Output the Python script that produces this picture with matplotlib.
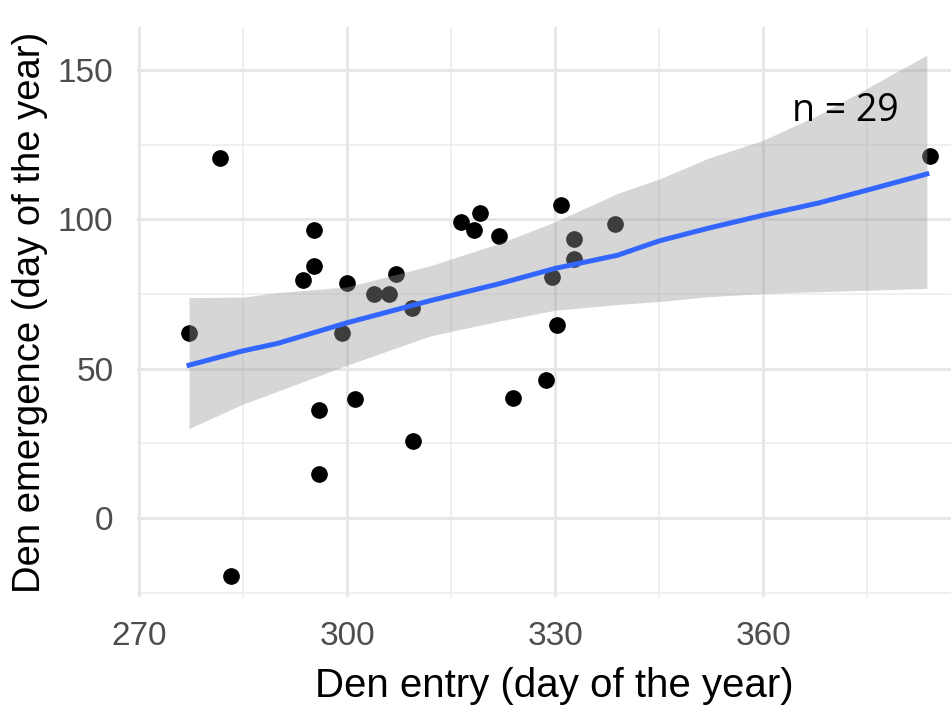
import matplotlib

matplotlib.use("Agg")

import matplotlib.pyplot as plt
import numpy as np

# den entry / den emergence (day of the year)
entry = [281.6, 295.2, 295.2, 293.6, 300.0, 307.1, 303.9, 306.1, 309.3,
         277.2, 299.2, 296.0, 301.2, 309.5, 296.0, 283.2,
         316.4, 319.1, 318.3, 321.9, 330.8, 332.7, 332.7, 329.6, 330.3,
         338.7, 328.7, 323.9, 384.0]
emergence = [120.4, 96.4, 84.4, 79.7, 78.8, 81.7, 75.0, 75.0, 70.2,
             62.0, 62.0, 36.2, 39.8, 25.9, 14.7, -19.4,
             99.2, 102.0, 96.4, 94.5, 104.8, 93.6, 86.6, 80.6, 64.8,
             98.4, 46.2, 40.1, 121.2]

# smoother (loess) fit and confidence band
fit_x = [277.2, 285.0, 290.0, 300.0, 312.0, 322.0, 330.0, 339.0, 345.0,
         352.0, 360.0, 368.0, 375.0, 383.6]
fit_y = [51.2, 56.0, 58.5, 65.4, 72.8, 78.5, 83.6, 88.0, 92.8,
         97.0, 101.4, 105.5, 109.8, 115.2]
fit_hi = [73.8, 74.0, 75.5, 77.4, 84.5, 92.0, 99.2, 108.7, 113.5,
          120.4, 126.5, 135.0, 143.9, 155.0]
fit_lo = [30.0, 38.2, 42.5, 51.2, 61.0, 66.0, 69.6, 71.5, 72.5,
          74.1, 75.2, 75.8, 76.3, 76.9]

x_major = [270, 300, 330, 360]
x_minor = [285, 315, 345, 375]
y_major = [0, 50, 100, 150]
y_minor = [-25, 25, 75, 125]

fig = plt.figure(figsize=(9.51, 7.07), dpi=100)
ax = fig.add_axes([0.1441, 0.1556, 0.856, 0.8062])

for v in x_minor:
    ax.axvline(v, color="#ececec", linewidth=1.1, zorder=0)
for v in y_minor:
    ax.axhline(v, color="#ececec", linewidth=1.1, zorder=0)
for v in x_major:
    ax.axvline(v, color="#e6e6e6", linewidth=2.0, zorder=0)
for v in y_major:
    ax.axhline(v, color="#e6e6e6", linewidth=2.0, zorder=0)

ax.plot(entry, emergence, "o", color="black", markersize=11, zorder=2)
ax.fill_between(fit_x, fit_lo, fit_hi, color="#999999", alpha=0.4,
                linewidth=0, zorder=3)
ax.plot(fit_x, fit_y, color="#3366FF", linewidth=3.6, zorder=4)

ax.text(371.9, 136.3, "n = 29", fontsize=27, family="Open Sans",
        ha="center", va="center", color="black", zorder=5)

ax.set_xlim(269.7, 387.1)
ax.set_ylim(-26.4, 164.4)
ax.set_xticks(x_major)
ax.set_yticks(y_major)
ax.tick_params(length=0, labelsize=24, labelcolor="#4d4d4d", pad=17)
for lab in ax.get_xticklabels() + ax.get_yticklabels():
    lab.set_family("Liberation Sans")
for s in ax.spines.values():
    s.set_visible(False)

ax.set_xlabel("Den entry (day of the year)", fontsize=29,
              family="Liberation Sans", labelpad=9)
ax.xaxis.set_label_coords(0.512, -0.122)
ax.set_ylabel("Den emergence (day of the year)", fontsize=27.5,
              family="Liberation Sans", labelpad=7)

fig.savefig("out.png", dpi=100)
